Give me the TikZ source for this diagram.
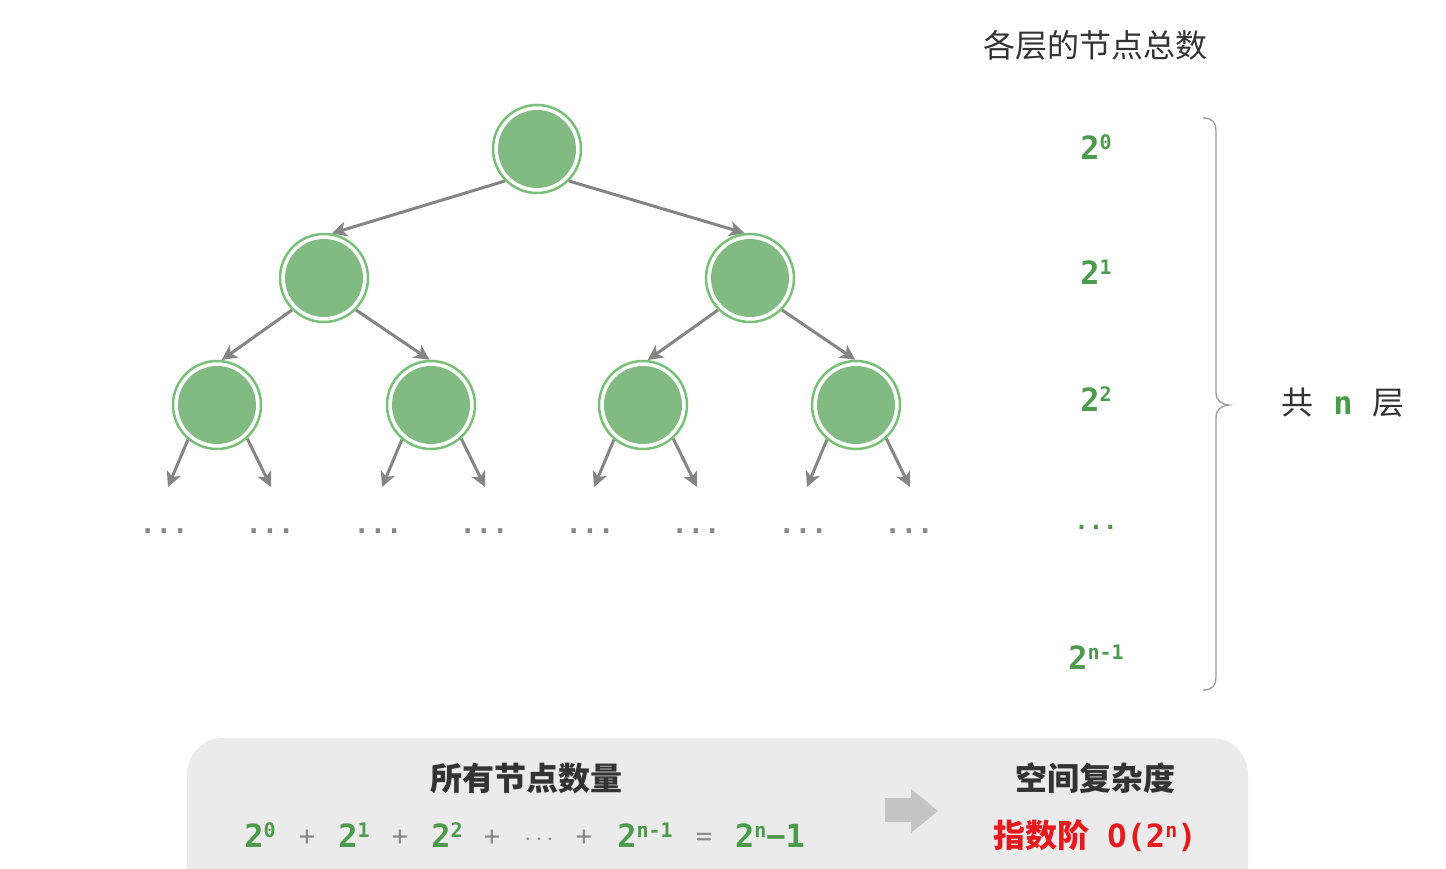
\documentclass[tikz,border=0pt]{standalone}
\usepackage{fontspec}
\usetikzlibrary{arrows.meta,calc}
\newfontfamily\cjk{Noto Sans CJK SC}
\newfontfamily\mono{DejaVu Sans Mono}
\definecolor{nodefill}{HTML}{82BB82}
\definecolor{ring}{HTML}{78BF78}
\definecolor{edgegray}{HTML}{858585}
\definecolor{txtgreen}{HTML}{4C9A4C}
\definecolor{txtdark}{HTML}{333333}
\definecolor{boxgray}{HTML}{EBEBEB}
\definecolor{arrgray}{HTML}{C4C4C4}
\definecolor{txtred}{HTML}{E6191C}
\definecolor{dotgray}{HTML}{8A8A8A}
\definecolor{bracegray}{HTML}{9A9A9A}
\newcommand\pw[2]{#1\raisebox{10pt}{\fontsize{20}{20}\selectfont #2}}
\tikzset{
  tn/.style={circle, draw=ring, line width=2.5pt, fill=white, minimum size=88pt, inner sep=0pt,
    path picture={\fill[nodefill] (path picture bounding box.center) circle (39pt);}},
  edge/.style={draw=edgegray, line width=3pt, -{Stealth[length=15pt,width=15pt,inset=4pt]}},
  pwr/.style={font=\mono\bfseries\fontsize{32}{32}\selectfont, text=txtgreen, anchor=base, inner sep=0pt},
  op/.style={font=\mono\fontsize{27}{27}\selectfont, text=dotgray, anchor=base, inner sep=0pt},
  leafdots/.style={font=\mono\bfseries\fontsize{27}{27}\selectfont, text=dotgray, inner sep=0pt},
  cjkt/.style={font=\cjk\fontsize{32}{32}\selectfont, text=txtdark, inner sep=0pt},
  cjkb/.style={font=\cjk\bfseries\fontsize{32}{32}\selectfont, text=txtdark, inner sep=0pt},
}
\begin{document}
\begin{tikzpicture}[x=1pt,y=-1pt]
\useasboundingbox (0,0) rectangle (1446,869);
% tree
\node[tn] (r) at (537,149) {};
\node[tn] (a) at (324,278) {};
\node[tn] (b) at (750,278) {};
\node[tn] (c) at (217,405) {};
\node[tn] (d) at (431,405) {};
\node[tn] (e) at (643,405) {};
\node[tn] (f) at (856,405) {};
\draw[edge] (r.225) -- (a.80);
\draw[edge] (r.-45) -- (b.97);
\draw[edge] (a.225) -- (c.84);
\draw[edge] (a.-45) -- (d.92);
\draw[edge] (b.225) -- (e.84);
\draw[edge] (b.-45) -- (f.91);
\foreach \n in {c,d,e,f}{
  \coordinate (\n L) at ($(\n)+(-49,82)$);
  \coordinate (\n R) at ($(\n)+(54,82)$);
  \draw[edge] (\n.230) -- (\n L);
  \draw[edge] (\n.-48) -- (\n R);
  \node[leafdots] (\n Ld) at ($(\n L)+(-4,44)$) {...};
  \node[leafdots] (\n Rd) at ($(\n R)+(-1,44)$) {...};
}
% right column
\node[cjkt] (title) at (1095,45) {各层的节点总数};
\node[pwr] (l0) at (1096,160) {\pw{2}{0}};
\node[pwr] (l1) at (1096,284) {\pw{2}{1}};
\node[pwr] (l2) at (1096,411) {\pw{2}{2}};
\node[pwr, font=\mono\bfseries\fontsize{24}{24}\selectfont] (l3) at (1096,529) {...};
\node[pwr] (l4) at (1096,669) {\pw{2}{n-1}};
\draw[bracegray, line width=1.3pt] (1203,118) .. controls (1212,118) and (1216,122) .. (1216,132)
  -- (1216,392) .. controls (1216,400) and (1220,404) .. (1229,405)
  .. controls (1220,406) and (1216,410) .. (1216,418)
  -- (1216,676) .. controls (1216,686) and (1212,690) .. (1203,690);
\node[cjkt] (layers) at (1343,403) {共\hspace{20pt}{\mono\bfseries\color{txtgreen}n}\hspace{20pt}层};
% bottom box
\fill[boxgray, rounded corners=36pt] (187,738) rectangle (1248,905);
\node[cjkb] (alln) at (526,778) {所有节点数量};
\node[cjkb] (space) at (1095,778) {空间复杂度};
\node[pwr] (f1) at (260,847) {\pw{2}{0}};
\node[op] (f2) at (307,845) {+};
\node[pwr] (f3) at (354,847) {\pw{2}{1}};
\node[op] (f4) at (400,845) {+};
\node[pwr] (f5) at (447,847) {\pw{2}{2}};
\node[op] (f6) at (492,845) {+};
\node[op] (f7) at (539,845) {$\cdots$};
\node[op] (f8) at (584,845) {+};
\node[pwr] (f9) at (645,847) {\pw{2}{n-1}};
\node[op] (f10) at (704,845) {=};
\node[pwr] (f11) at (770,847) {\pw{2}{n}−1};
\fill[arrgray] (885,798) -- (911,798) -- (911,789) -- (938,811) -- (911,833) -- (911,822) -- (885,822) -- cycle;
\node[cjkb, text=txtred, anchor=base] (cplx) at (1095,847) {指数阶\hspace{18pt}{\mono\bfseries O(\pw{2}{n})}};
\end{tikzpicture}
\end{document}
